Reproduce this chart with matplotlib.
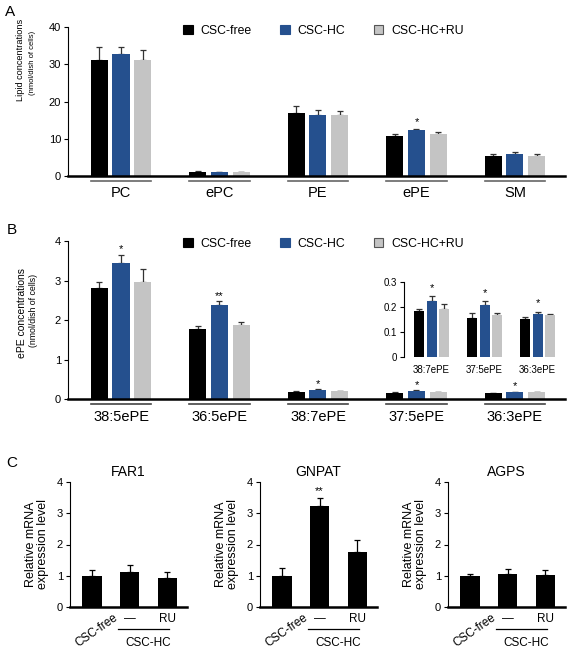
import matplotlib
matplotlib.use("Agg")
import matplotlib.pyplot as plt
import matplotlib.transforms as mtransforms
from matplotlib.patches import Patch
import numpy as np

plt.rcParams["font.family"] = ["Liberation Sans", "DejaVu Sans"]

W, H = 567, 653   # output size in pixels (dpi 100)

SERIES = ["CSC-free", "CSC-HC", "CSC-HC+RU"]
COLORS = ["#000000", "#25508e", "#c4c4c4"]

# --- panel A: lipid classes ---------------------------------------------
lipid_classes = ["PC", "ePC", "PE", "ePE", "SM"]
a_free = [31.2, 1.15, 17.0, 10.7, 5.3]
a_hc = [32.8, 1.1, 16.3, 12.3, 5.9]
a_ru = [31.1, 1.0, 16.3, 11.2, 5.5]
a_free_err = [3.4, 0.15, 1.7, 0.6, 0.7]
a_hc_err = [1.8, 0.1, 1.3, 0.4, 0.5]
a_ru_err = [2.8, 0.1, 1.1, 0.6, 0.4]
a_stars = [(1, 3, "*")]          # (series, category, mark)

# --- panel B: ePE species -----------------------------------------------
epe_species = ["38:5ePE", "36:5ePE", "38:7ePE", "37:5ePE", "36:3ePE"]
b_free = [2.82, 1.77, 0.183, 0.156, 0.152]
b_hc = [3.44, 2.37, 0.225, 0.209, 0.171]
b_ru = [2.97, 1.88, 0.192, 0.167, 0.168]
b_free_err = [0.14, 0.07, 0.008, 0.02, 0.007]
b_hc_err = [0.21, 0.10, 0.017, 0.013, 0.009]
b_ru_err = [0.31, 0.08, 0.021, 0.010, 0.005]
b_stars = [(1, 0, "*"), (1, 1, "**"), (1, 2, "*"), (1, 3, "*"), (1, 4, "*")]
inset_from = 2                   # inset zooms on the last three species

# --- panel C: qPCR --------------------------------------------------------
genes = ["FAR1", "GNPAT", "AGPS"]
c_means = {"FAR1": [0.98, 1.12, 0.92],
           "GNPAT": [0.99, 3.23, 1.75],
           "AGPS": [0.99, 1.06, 1.04]}
c_errs = {"FAR1": [0.21, 0.21, 0.20],
          "GNPAT": [0.26, 0.25, 0.38],
          "AGPS": [0.07, 0.17, 0.14]}
c_stars = {"GNPAT": [(1, "**")]}
c_conditions = ["CSC-free", "\u2014", "RU"]


def rect(l, t, r, b):
    """Pixel box (left, top, right, bottom) -> figure fraction."""
    return [l / W, 1 - b / H, (r - l) / W, (b - t) / H]


def style_axes(ax, bottom_lw=1.8, hide_bottom=False, labelsize=8):
    for s in ("top", "right"):
        ax.spines[s].set_visible(False)
    ax.spines["left"].set_linewidth(0.8)
    ax.spines["bottom"].set_linewidth(bottom_lw)
    if hide_bottom:
        ax.spines["bottom"].set_visible(False)
    ax.tick_params(axis="x", length=0, labelbottom=False)
    ax.tick_params(axis="y", direction="out", length=3, width=0.8,
                   labelsize=labelsize, pad=2)


def grouped_bars(ax, means, errs, width, step, stars, star_pad=1.5,
                 ecolor="#333333", capsize=2.5):
    x = np.arange(len(means[0]))
    for k, (m, e, c) in enumerate(zip(means, errs, COLORS)):
        xs = x + (k - 1) * step
        ax.bar(xs, m, width, color=c, zorder=2)
        ax.errorbar(xs, m, yerr=[np.zeros(len(e)), e], fmt="none",
                    ecolor=ecolor, elinewidth=0.9, capsize=capsize,
                    capthick=0.9, zorder=1)
    for k, i, mark in stars:
        if i >= len(x):
            continue
        ax.annotate(mark, (x[i] + (k - 1) * step, means[k][i] + errs[k][i]),
                    xytext=(0, star_pad), textcoords="offset points",
                    ha="center", va="bottom", fontsize=8)
    return x


def group_labels(ax, x, names, half, uy, ly, fontsize, color="#666666"):
    tr = mtransforms.blended_transform_factory(ax.transData, ax.transAxes)
    for xi, name in zip(x, names):
        ax.plot([xi - half, xi + half], [uy, uy], transform=tr,
                clip_on=False, color=color, lw=1.2)
        ax.text(xi, ly, name, transform=tr, ha="center", va="center",
                fontsize=fontsize)


def legend(fig, y_px):
    handles = [Patch(facecolor=c, edgecolor=("#555555" if i == 2 else c),
                     linewidth=0.8, label=s)
               for i, (s, c) in enumerate(zip(SERIES, COLORS))]
    fig.legend(handles=handles, loc="center left",
               bbox_to_anchor=(183 / W, 1 - y_px / H), ncol=3, frameon=False,
               fontsize=8.8, handlelength=0.8, handleheight=0.8,
               handletextpad=0.65, columnspacing=2.3, borderpad=0,
               borderaxespad=0)


fig = plt.figure(figsize=(W / 100, H / 100), dpi=100)

# ---------------------------------------------------------------- A
axA = fig.add_axes(rect(68, 27, 565, 176))
xA = grouped_bars(axA, [a_free, a_hc, a_ru], [a_free_err, a_hc_err, a_ru_err],
                  0.173, 0.22, a_stars)
axA.set_xlim(-0.538, 4.508)
axA.set_ylim(0, 40)
axA.set_yticks([0, 10, 20, 30, 40])
style_axes(axA)
group_labels(axA, xA, lipid_classes, 0.307, -0.034, -0.114, 10.5)
legend(fig, 31)
fig.text(21 / W, 1 - 60 / H, "Lipid concentrations", rotation=90,
         ha="center", va="center", fontsize=6.6)
fig.text(33 / W, 1 - 63 / H, "(nmol/dish of cells)", rotation=90,
         ha="center", va="center", fontsize=5.5)

# ---------------------------------------------------------------- B
axB = fig.add_axes(rect(68, 241, 565, 399))
b_means = [b_free, b_hc, b_ru]
b_errs = [b_free_err, b_hc_err, b_ru_err]
xB = grouped_bars(axB, b_means, b_errs, 0.173, 0.22, b_stars, star_pad=0.3)
axB.set_xlim(-0.538, 4.508)
axB.set_ylim(0, 4)
axB.set_yticks([0, 1, 2, 3, 4])
style_axes(axB)
group_labels(axB, xB, epe_species, 0.307, -0.032, -0.114, 10.5,
             color="#444444")
legend(fig, 244)
fig.text(22 / W, 1 - 313 / H, "ePE concentrations", rotation=90,
         ha="center", va="center", fontsize=7.5)
fig.text(34 / W, 1 - 310 / H, "(nmol/dish of cells)", rotation=90,
         ha="center", va="center", fontsize=6.3)

# inset
axI = fig.add_axes(rect(404, 282, 560, 357))
ins_means = [m[inset_from:] for m in b_means]
ins_errs = [e[inset_from:] for e in b_errs]
ins_stars = [(k, i - inset_from, s) for k, i, s in b_stars if i >= inset_from]
xI = grouped_bars(axI, ins_means, ins_errs, 0.19, 0.232, ins_stars,
                  star_pad=2.5, capsize=2)
axI.set_xlim(-0.519, 2.42)
axI.set_ylim(0, 0.3)
axI.set_yticks([0, 0.1, 0.2, 0.3])
axI.set_yticklabels(["0", "0.1", "0.2", "0.3"])
style_axes(axI, hide_bottom=True, labelsize=7)
trI = mtransforms.blended_transform_factory(axI.transData, axI.transAxes)
for xi, name in zip(xI, epe_species[inset_from:]):
    axI.text(xi, -0.17, name, transform=trI, ha="center", va="center",
             fontsize=7)

# ---------------------------------------------------------------- C
c_left = {"FAR1": 70, "GNPAT": 260, "AGPS": 448}
for g in genes:
    l = c_left[g]
    ax = fig.add_axes(rect(l, 482, l + 117, 607))
    x = np.arange(len(c_means[g]))
    ax.bar(x, c_means[g], 0.52, color="black", zorder=2)
    ax.errorbar(x, c_means[g], yerr=[np.zeros(len(x)), c_errs[g]], fmt="none",
                ecolor="black", elinewidth=0.9, capsize=2.5, capthick=0.9,
                zorder=1)
    for i, mark in c_stars.get(g, []):
        ax.annotate(mark, (x[i], c_means[g][i] + c_errs[g][i]),
                    xytext=(0, 1.5), textcoords="offset points",
                    ha="center", va="bottom", fontsize=8)
    ax.set_xlim(-0.58, 2.52)
    ax.set_ylim(0, 4)
    ax.set_yticks([0, 1, 2, 3, 4])
    style_axes(ax)
    ax.text(0.5, 1.08, g, transform=ax.transAxes, ha="center", va="center",
            fontsize=10)
    tr = mtransforms.blended_transform_factory(ax.transData, ax.transAxes)
    ax.text(x[0] + 0.55, -0.04, c_conditions[0], transform=tr, rotation=35,
            rotation_mode="anchor", ha="right", va="top", fontsize=8.5)
    for xi, cond in zip(x[1:], c_conditions[1:]):
        ax.text(xi, -0.096, cond, transform=tr, ha="center", va="center",
                fontsize=8.5)
    ax.plot([x[1] - 0.3, x[2] + 0.03], [-0.176, -0.176], transform=tr,
            clip_on=False, color="black", lw=0.9)
    ax.text((x[1] + x[2]) / 2, -0.288, "CSC-HC", transform=tr, ha="center",
            va="center", fontsize=8.5)
    fig.text((l - 33) / W, 1 - 544 / H, "Relative mRNA\nexpression level",
             rotation=90, ha="center", va="center", fontsize=9,
             linespacing=0.95, multialignment="center")

# panel letters
for letter, (px, py) in zip("ABC", [(10, 12), (12, 230), (12, 463)]):
    fig.text(px / W, 1 - py / H, letter, ha="center", va="center", fontsize=11)

fig.savefig("out.png", dpi=100)
